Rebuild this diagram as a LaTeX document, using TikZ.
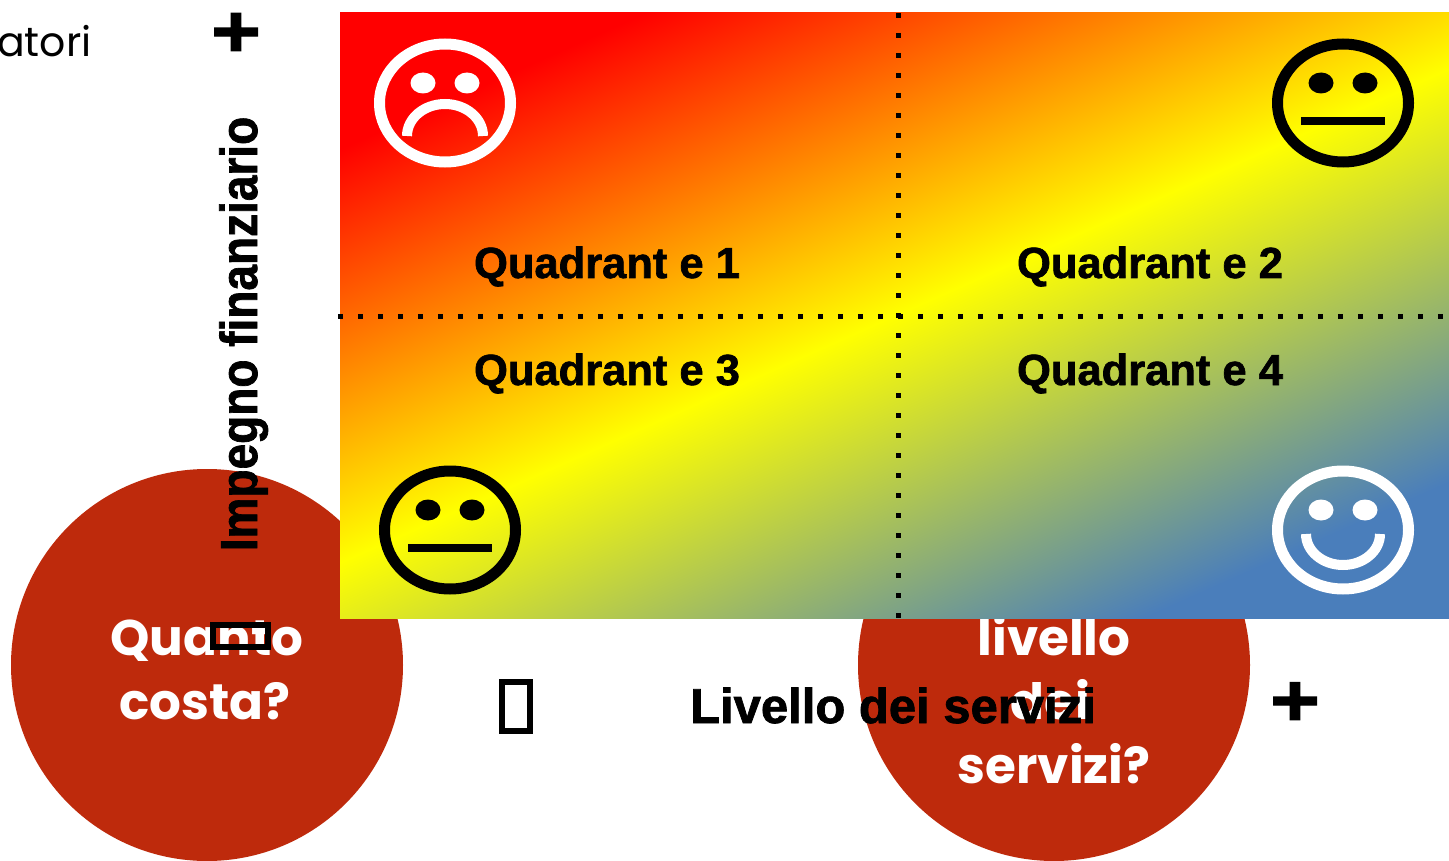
\documentclass[tikz,border=0pt]{standalone}
\usepackage{fontspec}
\setmainfont{Liberation Sans}[BoldFeatures={FakeBold=1.5}]
\newfontfamily\gothic{Poppins}
\definecolor{circred}{RGB}{190,42,12}
\definecolor{qred}{RGB}{255,0,0}
\definecolor{qyellow}{RGB}{255,255,0}
\definecolor{qblue}{RGB}{74,126,187}

\begin{document}
\begin{tikzpicture}[x=1pt,y=-1pt,
    quad/.style={font=\bfseries\fontsize{43.5}{50}\selectfont,anchor=base,inner sep=0},
    axislabel/.style={font=\bfseries\fontsize{49}{54}\selectfont,anchor=base,inner sep=0},
    plus/.style={font=\bfseries\fontsize{74}{80}\selectfont,inner sep=0},
    ask/.style={font=\gothic\bfseries\fontsize{50}{64}\selectfont,text=white,anchor=base,inner sep=0},
    bubble/.style={circle,fill=circred,minimum size=392pt,inner sep=0},
    missing/.style={draw,line width=6pt,inner sep=0},
    divider/.style={line width=5pt,dash pattern=on 5pt off 15pt},
    ring/.style={line width=11pt},
    mouth/.style={line width=10pt}]
    \path[fill=white] (0,0) rectangle (1449,861);
    \useasboundingbox (0,0) rectangle (1449,861);

    \node[anchor=base west,inner sep=0,font=\gothic\fontsize{41}{46}\selectfont] (legend) at (-3,57) {atori};

    \node[bubble] (c_1) at (207,665) {};
    \node[bubble] (c_2) at (1054,665) {};
    \node[ask] (a_1) at (207,655) {Quanto};
    \node[ask] (a_2) at (205,719) {costa?};
    \node[ask] (b_1) at (1054,655) {livello};
    \node[ask] (b_2) at (1050,719) {dei};
    \node[ask] (b_3) at (1054,783) {servizi?};

    \coordinate (g_tl) at (340,13);
    \coordinate (g_br) at (1449,618);
    \shade[top color=qred,bottom color=qblue,middle color=qyellow,shading angle=24] (g_tl) rectangle (g_br);

    \coordinate (v_top) at (898,13);
    \coordinate (v_bot) at (898,622);
    \coordinate (h_left) at (338,316);
    \coordinate (h_right) at (1449,316);
    \draw[divider] (v_top) -- (v_bot);
    \draw[divider] (h_left) -- (h_right);

    \coordinate (f_1) at (445,103);
    \coordinate (f_2) at (1343,103);
    \coordinate (f_3) at (450,530);
    \coordinate (f_4) at (1343,530);

    \draw[ring,white] (f_1) ellipse[x radius=65.5,y radius=59];
    \fill[white] (f_1) ++(-22,-20) ellipse[x radius=12.5,y radius=10.5] ++(44,0) ellipse[x radius=12.5,y radius=10.5];
    \draw[mouth,white] (f_1) ++(-38,33) arc[start angle=180,end angle=360,x radius=38,y radius=32];

    \draw[ring] (f_2) ellipse[x radius=65.5,y radius=59];
    \fill (f_2) ++(-22,-20) ellipse[x radius=12.5,y radius=10.5] ++(44,0) ellipse[x radius=12.5,y radius=10.5];
    \fill (f_2) ++(-42,14) rectangle ++(84,8);

    \draw[ring] (f_3) ellipse[x radius=65.5,y radius=59];
    \fill (f_3) ++(-22,-20) ellipse[x radius=12.5,y radius=10.5] ++(44,0) ellipse[x radius=12.5,y radius=10.5];
    \fill (f_3) ++(-42,14) rectangle ++(84,8);

    \draw[ring,white] (f_4) ellipse[x radius=65.5,y radius=59];
    \fill[white] (f_4) ++(-22,-20) ellipse[x radius=12.5,y radius=10.5] ++(44,0) ellipse[x radius=12.5,y radius=10.5];
    \draw[mouth,white] (f_4) ++(37,4) arc[start angle=0,end angle=180,x radius=37,y radius=31];

    \node[quad] (q_1) at (607,278) {Quadrant e 1};
    \node[quad] (q_2) at (1150,278) {Quadrant e 2};
    \node[quad] (q_3) at (607,385) {Quadrant e 3};
    \node[quad] (q_4) at (1150,385) {Quadrant e 4};

    \node[rotate=90,anchor=base,inner sep=0,font=\bfseries\fontsize{46}{50}\selectfont] (y_axis) at (257,334) {\scalebox{1}[1.13]{\bfseries Impegno finanziario}};
    \node[axislabel] (x_axis) at (893,723) {Livello dei servizi};

    \node[plus] (y_plus) at (236,35) {\scalebox{1.15}[1]{+}};
    \node[plus] (x_plus) at (1295,704) {\scalebox{1.15}[1]{+}};
    \node[missing,minimum width=55pt,minimum height=22pt] (y_minus) at (240.5,636) {};
    \node[missing,minimum width=28pt,minimum height=49pt] (x_minus) at (516,706.5) {};
  \end{tikzpicture}
\end{document}
